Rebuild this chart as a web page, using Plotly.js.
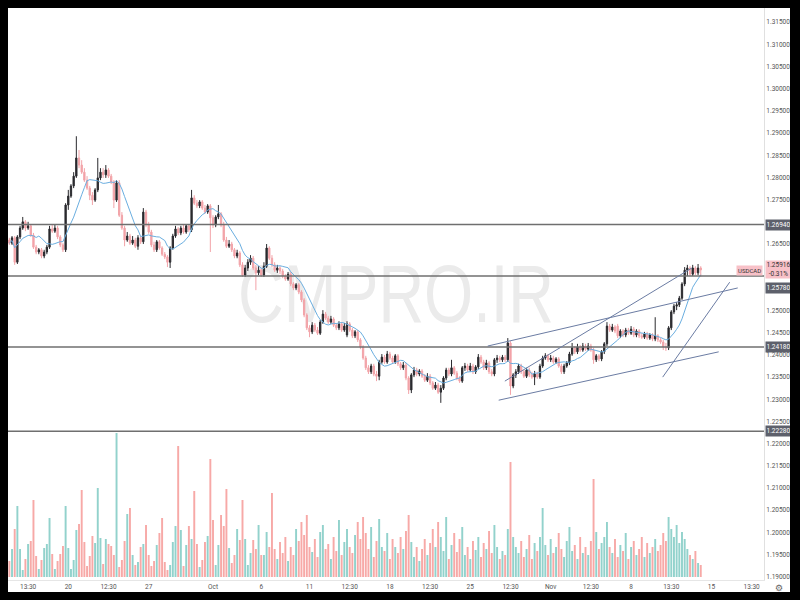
<!DOCTYPE html>
<html><head><meta charset="utf-8">
<script src="https://cdn.plot.ly/plotly-3.0.1.min.js"></script>
<style>
html,body{margin:0;padding:0;background:#000;width:800px;height:600px;overflow:hidden}
#frame{position:absolute;left:8px;top:8px;width:782px;height:584px;background:#fff;overflow:hidden}
#wm{position:absolute;left:-3px;top:246px;width:782px;text-align:center;font-family:"Liberation Sans",Arial,sans-serif;font-size:81px;line-height:81px;color:#ebebeb;transform:scaleX(0.78);transform-origin:center;white-space:nowrap}
#chart{position:absolute;left:0;top:0;width:782px;height:584px}
</style></head><body>
<div id="frame"><div id="wm">CMPRO.IR</div><div id="chart"></div></div>
<script>
const symbol = "USDCAD";
const changePct = -0.31;
const tickText = ["13:30","20","12:30","27","Oct","6","11","12:30","18","12:30","25","12:30","Nov","12:30","8","13:30","15","13:30"];
const tickIdx  = [7,22,37,52,76,94,112,127,142,157,172,187,202,217,232,247,262,277];

const open = [
1.2659,1.2652,1.2664,1.2609,1.2666,1.2686,1.2700,1.2686,1.2691,1.2670,
1.2643,1.2632,1.2637,1.2623,1.2632,1.2643,1.2684,1.2679,1.2686,1.2666,
1.2648,1.2637,1.2738,1.2758,1.2781,1.2803,1.2844,1.2828,1.2812,1.2794,
1.2776,1.2760,1.2749,1.2772,1.2799,1.2812,1.2806,1.2817,1.2803,1.2790,
1.2749,1.2788,1.2715,1.2686,1.2659,1.2668,1.2652,1.2659,1.2645,1.2664,
1.2655,1.2722,1.2693,1.2677,1.2648,1.2637,1.2655,1.2641,1.2627,1.2621,
1.2609,1.2641,1.2668,1.2684,1.2675,1.2686,1.2677,1.2691,1.2682,1.2754,
1.2742,1.2736,1.2745,1.2731,1.2722,1.2736,1.2709,1.2693,1.2711,1.2718,
1.2693,1.2659,1.2645,1.2650,1.2637,1.2623,1.2630,1.2603,1.2580,1.2596,
1.2609,1.2618,1.2596,1.2585,1.2591,1.2580,1.2600,1.2641,1.2618,1.2603,
1.2591,1.2596,1.2589,1.2578,1.2571,1.2582,1.2560,1.2551,1.2558,1.2542,
1.2524,1.2490,1.2461,1.2452,1.2467,1.2456,1.2449,1.2474,1.2492,1.2483,
1.2474,1.2481,1.2467,1.2461,1.2470,1.2456,1.2445,1.2470,1.2456,1.2443,
1.2452,1.2434,1.2418,1.2393,1.2371,1.2362,1.2375,1.2357,1.2352,1.2384,
1.2395,1.2384,1.2402,1.2393,1.2384,1.2398,1.2380,1.2371,1.2377,1.2348,
1.2321,1.2355,1.2366,1.2357,1.2364,1.2352,1.2343,1.2352,1.2337,1.2325,
1.2332,1.2316,1.2325,1.2348,1.2366,1.2357,1.2371,1.2359,1.2348,1.2341,
1.2371,1.2375,1.2366,1.2375,1.2362,1.2373,1.2395,1.2384,1.2371,1.2382,
1.2362,1.2357,1.2389,1.2393,1.2389,1.2395,1.2389,1.2427,1.2330,1.2355,
1.2362,1.2375,1.2362,1.2352,1.2366,1.2355,1.2350,1.2357,1.2350,1.2375,
1.2393,1.2398,1.2389,1.2393,1.2384,1.2391,1.2375,1.2362,1.2375,1.2382,
1.2402,1.2416,1.2407,1.2418,1.2411,1.2420,1.2413,1.2420,1.2411,1.2389,
1.2398,1.2391,1.2407,1.2425,1.2465,1.2456,1.2463,1.2465,1.2443,1.2454,
1.2445,1.2456,1.2449,1.2458,1.2445,1.2454,1.2443,1.2440,1.2447,1.2438,
1.2445,1.2436,1.2443,1.2434,1.2429,1.2418,1.2416,1.2461,1.2497,1.2510,
1.2513,1.2528,1.2560,1.2591,1.2596,1.2582,1.2596,1.2585,1.2596];

const high = [
1.2664,1.2668,1.2668,1.2670,1.2691,1.2711,1.2704,1.2700,1.2695,1.2675,
1.2648,1.2641,1.2641,1.2637,1.2648,1.2691,1.2693,1.2695,1.2691,1.2670,
1.2652,1.2742,1.2772,1.2785,1.2812,1.2893,1.2862,1.2839,1.2821,1.2803,
1.2781,1.2767,1.2776,1.2844,1.2821,1.2821,1.2828,1.2821,1.2808,1.2794,
1.2794,1.2794,1.2722,1.2691,1.2677,1.2673,1.2668,1.2664,1.2670,1.2668,
1.2731,1.2727,1.2700,1.2682,1.2655,1.2659,1.2659,1.2645,1.2632,1.2625,
1.2645,1.2673,1.2691,1.2688,1.2691,1.2693,1.2695,1.2695,1.2772,1.2760,
1.2749,1.2749,1.2749,1.2738,1.2740,1.2740,1.2715,1.2715,1.2738,1.2722,
1.2700,1.2666,1.2659,1.2655,1.2641,1.2637,1.2634,1.2609,1.2603,1.2616,
1.2625,1.2623,1.2603,1.2600,1.2596,1.2609,1.2650,1.2645,1.2625,1.2609,
1.2603,1.2600,1.2594,1.2582,1.2587,1.2587,1.2564,1.2562,1.2562,1.2546,
1.2528,1.2494,1.2467,1.2474,1.2472,1.2463,1.2479,1.2501,1.2497,1.2488,
1.2488,1.2485,1.2472,1.2476,1.2474,1.2472,1.2476,1.2474,1.2461,1.2456,
1.2456,1.2438,1.2422,1.2398,1.2377,1.2380,1.2380,1.2364,1.2389,1.2402,
1.2400,1.2409,1.2407,1.2398,1.2402,1.2402,1.2384,1.2384,1.2382,1.2352,
1.2359,1.2373,1.2371,1.2368,1.2368,1.2357,1.2359,1.2357,1.2341,1.2339,
1.2337,1.2332,1.2352,1.2371,1.2371,1.2389,1.2375,1.2364,1.2352,1.2375,
1.2382,1.2380,1.2382,1.2380,1.2377,1.2402,1.2400,1.2389,1.2389,1.2386,
1.2368,1.2393,1.2400,1.2398,1.2400,1.2400,1.2438,1.2431,1.2359,1.2368,
1.2380,1.2380,1.2366,1.2371,1.2371,1.2362,1.2364,1.2362,1.2380,1.2398,
1.2404,1.2402,1.2400,1.2398,1.2395,1.2395,1.2380,1.2380,1.2386,1.2407,
1.2427,1.2420,1.2425,1.2422,1.2427,1.2425,1.2427,1.2425,1.2416,1.2402,
1.2402,1.2411,1.2429,1.2474,1.2470,1.2470,1.2467,1.2470,1.2458,1.2458,
1.2461,1.2461,1.2465,1.2463,1.2458,1.2458,1.2449,1.2452,1.2452,1.2449,
1.2449,1.2485,1.2447,1.2438,1.2434,1.2427,1.2465,1.2501,1.2515,1.2519,
1.2533,1.2564,1.2598,1.2603,1.2600,1.2603,1.2600,1.2605,1.2600];

const low = [
1.2648,1.2648,1.2603,1.2605,1.2661,1.2682,1.2679,1.2682,1.2666,1.2639,
1.2627,1.2627,1.2618,1.2618,1.2627,1.2639,1.2675,1.2675,1.2661,1.2643,
1.2632,1.2632,1.2727,1.2754,1.2776,1.2799,1.2821,1.2808,1.2790,1.2772,
1.2749,1.2738,1.2745,1.2767,1.2794,1.2799,1.2799,1.2799,1.2785,1.2731,
1.2745,1.2711,1.2682,1.2645,1.2655,1.2648,1.2648,1.2641,1.2637,1.2650,
1.2650,1.2688,1.2673,1.2643,1.2632,1.2632,1.2637,1.2623,1.2616,1.2598,
1.2596,1.2637,1.2664,1.2670,1.2670,1.2673,1.2673,1.2677,1.2677,1.2738,
1.2731,1.2731,1.2727,1.2718,1.2718,1.2632,1.2686,1.2688,1.2706,1.2688,
1.2655,1.2641,1.2641,1.2632,1.2618,1.2618,1.2598,1.2576,1.2576,1.2589,
1.2603,1.2591,1.2546,1.2580,1.2576,1.2576,1.2596,1.2614,1.2598,1.2587,
1.2585,1.2582,1.2573,1.2567,1.2567,1.2555,1.2546,1.2546,1.2537,1.2519,
1.2485,1.2456,1.2440,1.2447,1.2452,1.2445,1.2445,1.2470,1.2479,1.2470,
1.2470,1.2463,1.2456,1.2456,1.2452,1.2452,1.2440,1.2452,1.2438,1.2438,
1.2429,1.2413,1.2389,1.2366,1.2357,1.2357,1.2352,1.2341,1.2343,1.2380,
1.2380,1.2380,1.2389,1.2380,1.2380,1.2375,1.2366,1.2366,1.2343,1.2312,
1.2314,1.2350,1.2352,1.2352,1.2348,1.2339,1.2339,1.2332,1.2321,1.2321,
1.2312,1.2292,1.2321,1.2343,1.2352,1.2352,1.2355,1.2343,1.2337,1.2337,
1.2364,1.2362,1.2362,1.2357,1.2357,1.2368,1.2380,1.2366,1.2366,1.2357,
1.2352,1.2352,1.2382,1.2384,1.2384,1.2384,1.2384,1.2310,1.2325,1.2348,
1.2357,1.2357,1.2348,1.2348,1.2350,1.2346,1.2332,1.2346,1.2346,1.2371,
1.2389,1.2384,1.2384,1.2380,1.2380,1.2371,1.2357,1.2357,1.2371,1.2377,
1.2398,1.2402,1.2402,1.2407,1.2407,1.2409,1.2409,1.2407,1.2380,1.2384,
1.2386,1.2386,1.2402,1.2420,1.2452,1.2452,1.2449,1.2438,1.2438,1.2440,
1.2440,1.2445,1.2445,1.2440,1.2440,1.2438,1.2436,1.2436,1.2434,1.2434,
1.2431,1.2431,1.2429,1.2425,1.2411,1.2409,1.2411,1.2456,1.2492,1.2501,
1.2508,1.2524,1.2555,1.2578,1.2578,1.2578,1.2580,1.2580,1.2576];

const close = [
1.2652,1.2664,1.2609,1.2666,1.2686,1.2700,1.2686,1.2691,1.2670,1.2643,
1.2632,1.2637,1.2623,1.2632,1.2643,1.2684,1.2679,1.2686,1.2666,1.2648,
1.2637,1.2738,1.2758,1.2781,1.2803,1.2844,1.2828,1.2812,1.2794,1.2776,
1.2760,1.2749,1.2772,1.2799,1.2812,1.2806,1.2817,1.2803,1.2790,1.2749,
1.2788,1.2715,1.2686,1.2659,1.2668,1.2652,1.2659,1.2645,1.2664,1.2655,
1.2722,1.2693,1.2677,1.2648,1.2637,1.2655,1.2641,1.2627,1.2621,1.2609,
1.2641,1.2668,1.2684,1.2675,1.2686,1.2677,1.2691,1.2682,1.2754,1.2742,
1.2736,1.2745,1.2731,1.2722,1.2736,1.2709,1.2693,1.2711,1.2718,1.2693,
1.2659,1.2645,1.2650,1.2637,1.2623,1.2630,1.2603,1.2580,1.2596,1.2609,
1.2618,1.2596,1.2585,1.2591,1.2580,1.2600,1.2641,1.2618,1.2603,1.2591,
1.2596,1.2589,1.2578,1.2571,1.2582,1.2560,1.2551,1.2558,1.2542,1.2524,
1.2490,1.2461,1.2452,1.2467,1.2456,1.2449,1.2474,1.2492,1.2483,1.2474,
1.2481,1.2467,1.2461,1.2470,1.2456,1.2465,1.2470,1.2456,1.2443,1.2452,
1.2434,1.2418,1.2393,1.2371,1.2362,1.2375,1.2357,1.2352,1.2384,1.2395,
1.2384,1.2402,1.2393,1.2384,1.2398,1.2380,1.2371,1.2377,1.2348,1.2321,
1.2355,1.2366,1.2357,1.2364,1.2352,1.2343,1.2352,1.2337,1.2325,1.2332,
1.2316,1.2325,1.2348,1.2366,1.2357,1.2371,1.2359,1.2348,1.2341,1.2371,
1.2375,1.2366,1.2375,1.2362,1.2373,1.2395,1.2384,1.2371,1.2382,1.2362,
1.2357,1.2389,1.2393,1.2389,1.2395,1.2389,1.2427,1.2330,1.2355,1.2362,
1.2375,1.2362,1.2352,1.2366,1.2355,1.2350,1.2357,1.2350,1.2375,1.2393,
1.2398,1.2389,1.2393,1.2384,1.2391,1.2375,1.2362,1.2375,1.2382,1.2402,
1.2416,1.2407,1.2418,1.2411,1.2420,1.2413,1.2420,1.2411,1.2389,1.2398,
1.2391,1.2407,1.2425,1.2465,1.2456,1.2463,1.2454,1.2443,1.2454,1.2445,
1.2456,1.2449,1.2458,1.2445,1.2454,1.2443,1.2440,1.2447,1.2438,1.2445,
1.2436,1.2443,1.2434,1.2429,1.2418,1.2416,1.2461,1.2497,1.2510,1.2513,
1.2528,1.2560,1.2591,1.2596,1.2582,1.2596,1.2585,1.2596,1.25916];

const volume = [
16,28,48,71,28,7,18,33,36,77, 21,8,17,29,33,59,23,8,16,23,
31,71,29,8,17,47,53,87,35,11, 21,41,34,89,39,13,38,33,31,22,
144,10,17,36,63,69,22,12, 15,30,33,52,22,11,16,32,44,59,
15,7,12,35,51,131,47,11,32,51, 38,86,33,10,17,35,41,118,57,12,
32,62,51,88,29,14,22,48,37,77, 38,12,24,37,28,52,22,
22,45,30,84,28,18,35,24,40,16,
30,22,48,36,55,42,62,30,25,38,
20,45,52,28,33,18,40,26,57,22,
35,48,30,24,42,55,38,60,44,28,
50,20,36,58,30,26,44,18,38,30,
24,40,28,46,62,35,20,30,16,28,
38,22,34,48,30,55,40,26,60,18,
32,44,25,38,50,22,30,18,36,27,
40,20,34,28,46,24,52,30,18,26,
22,48,115,40,30,24,36,20,28,42,
18,34,26,40,69,32,22,38,24,30,
44,28,20,36,50,26,32,18,40,24,
30,22,36,98,45,28,34,40,55,30,
24,38,20,32,26,44,18,30,36,22,
28,40,20,34,24,30,38,26,32,44,
36,60,48,40,52,34,45,38,28,22,
18,26,14,12];

const levels = [1.2694, 1.2578, 1.2418, 1.2228];
// trend lines: [startIndex, startPrice, endIndex, endPrice]
const trendLines = [
  [178.5, 1.2420, 271.8, 1.2551],
  [182.6, 1.2298, 264.7, 1.2407],
  [184.9, 1.2341, 254.7, 1.2596],
  [243.8, 1.2350, 268.8, 1.2564]
];
const maPeriod = 9;
const priceStep = 0.005, priceFirst = 1.19, priceLastTick = 1.315;

const idx = close.map((_, i) => i);
const ma = close.map((c, i) => {
  const w = close.slice(Math.max(0, i - maPeriod + 1), i + 1);
  return w.reduce((a, b) => a + b, 0) / w.length;
});
const UP = '#2a2a2e', DOWN = '#f2a3a8';
const volColors = close.map((c, i) => c >= open[i] ? 'rgba(38,166,154,0.5)' : 'rgba(239,83,80,0.5)');
const last = close[close.length - 1];

// price-scale labels (boxes) and the ticks they hide
const yRange = [1.18927, 1.3182];
const pxPerUnit = 572 / (yRange[1] - yRange[0]);
const boxShift = {1.2578: -12};
const boxCentres = levels.map(l => l - (boxShift[l] || 0) / pxPerUnit).concat([last]);
const yTicks = [];
for (let k = 0; priceFirst + k * priceStep <= priceLastTick + 1e-9; k++) {
  const v = +(priceFirst + k * priceStep).toFixed(3);
  if (boxCentres.every(b => Math.abs(b - v) * pxPerUnit > 7)) yTicks.push(v);
}

const tfont = {family: 'Roboto, "Liberation Sans", sans-serif', size: 6.5, color: '#555'};

const traces = [
  {type: 'bar', x: idx, y: volume, yaxis: 'y2', marker: {color: volColors, line: {width: 0}}, width: 0.72, hoverinfo: 'skip'},
  {type: 'candlestick', x: idx, open: open, high: high, low: low, close: close,
   increasing: {line: {color: UP, width: 1}, fillcolor: UP},
   decreasing: {line: {color: DOWN, width: 1}, fillcolor: DOWN},
   whiskerwidth: 0, hoverinfo: 'skip'},
  {type: 'scatter', mode: 'lines', x: idx, y: ma, line: {color: '#6aaee0', width: 1}, hoverinfo: 'skip'}
];

const shapes = [];
levels.forEach(l => shapes.push({type: 'line', xref: 'paper', x0: 0, x1: 1, yref: 'y', y0: l, y1: l, line: {color: '#6f6f6f', width: 1.4}}));
trendLines.forEach(t => shapes.push({type: 'line', xref: 'x', yref: 'y', x0: t[0], y0: t[1], x1: t[2], y1: t[3], line: {color: '#6b7ca3', width: 1}}));

const annotations = [];
levels.forEach(l => annotations.push({
  xref: 'paper', x: 1, xanchor: 'left', xshift: 1, yref: 'y', y: l, yshift: (boxShift[l] || 0),
  text: l.toFixed(5), showarrow: false, font: {family: tfont.family, size: 6.5, color: '#fff'},
  bgcolor: '#5d606b', width: 23, height: 8, borderpad: 1, align: 'center'
}));
annotations.push({
  xref: 'paper', x: 1, xanchor: 'left', xshift: 1, yref: 'y', y: last,
  text: last.toFixed(5) + '<br>' + changePct.toFixed(2) + '%', showarrow: false,
  font: {family: tfont.family, size: 6.5, color: '#333'}, bgcolor: '#f8c1c8', width: 23, height: 15, borderpad: 1, align: 'center'
});
annotations.push({
  xref: 'paper', x: 1, xanchor: 'right', xshift: -1, yref: 'y', y: last, yshift: -1,
  text: symbol, showarrow: false, font: {family: tfont.family, size: 6, color: '#333'},
  bgcolor: '#f8c1c8', borderpad: 1
});
annotations.push({
  xref: 'paper', x: 1, xanchor: 'left', xshift: 9, yref: 'paper', y: 0, yanchor: 'top', yshift: -1,
  text: '⚙', showarrow: false, font: {family: '"DejaVu Sans", sans-serif', size: 9, color: '#666'}
});

const layout = {
  width: 782, height: 584,
  margin: {l: 0, r: 26, t: 0, b: 12},
  paper_bgcolor: 'rgba(0,0,0,0)', plot_bgcolor: 'rgba(0,0,0,0)',
  showlegend: false,
  xaxis: {range: [-0.5, 281.6], showgrid: false, zeroline: false, tickmode: 'array',
          tickvals: tickIdx, ticktext: tickText, ticks: '', tickfont: tfont,
          showline: true, linecolor: '#e6e6e6', rangeslider: {visible: false}, fixedrange: true},
  yaxis: {side: 'right', range: yRange, tickmode: 'array', tickvals: yTicks, tickformat: '.5f',
          showgrid: false, zeroline: false, tickfont: tfont, ticks: '', showline: true, linecolor: '#e0e0e0'},
  yaxis2: {overlaying: 'y', range: [-3, 569], visible: false, fixedrange: true},
  shapes: shapes, annotations: annotations
};

Plotly.newPlot('chart', traces, layout, {staticPlot: true, displayModeBar: false});
</script></body></html>
